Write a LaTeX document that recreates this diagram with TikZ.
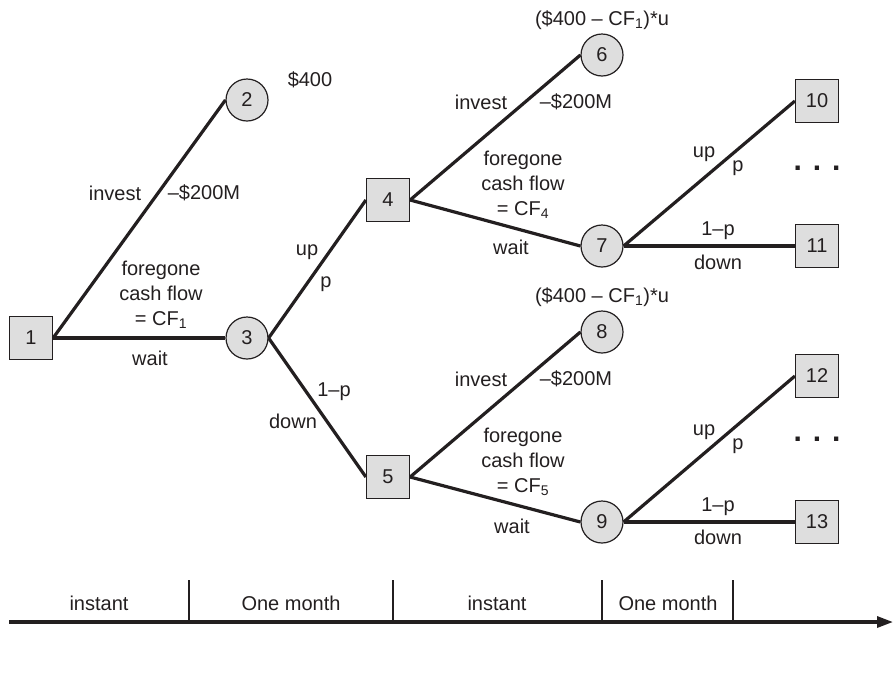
\documentclass[tikz,border=0pt]{standalone}
\usepackage{fontspec}
\setmainfont{Liberation Sans}
\usetikzlibrary{arrows.meta}
\definecolor{nodegray}{RGB}{222,222,222}
\definecolor{inkc}{RGB}{35,31,32}
\begin{document}
\begin{tikzpicture}[x=1pt,y=-1pt,
  every node/.style={font=\fontsize{20}{25}\selectfont, inner sep=0pt, text=inkc},
  sq/.style={draw=inkc, line width=1.2pt, fill=nodegray, rectangle, minimum size=43pt},
  cir/.style={draw=inkc, line width=1.2pt, fill=nodegray, circle, minimum size=42pt},
  edge/.style={draw=inkc, line width=3.2pt},
  lbl/.style={align=center},
  dots/.style={font=\fontsize{30}{30}\selectfont\bfseries},
  tick/.style={draw=inkc, line width=1.2pt}
]
\useasboundingbox (0,0) rectangle (896,673);

% nodes
\node[sq]  (n1)  at (31,338)  {1};
\node[cir] (n2)  at (247,100) {2};
\node[cir] (n3)  at (247,338) {3};
\node[sq]  (n4)  at (388,200) {4};
\node[sq]  (n5)  at (388,477) {5};
\node[cir] (n6)  at (602,55)  {6};
\node[cir] (n7)  at (602,246) {7};
\node[cir] (n8)  at (602,332) {8};
\node[cir] (n9)  at (602,522) {9};
\node[sq]  (n10) at (817,101) {10};
\node[sq]  (n11) at (817,246) {11};
\node[sq]  (n12) at (817,376) {12};
\node[sq]  (n13) at (817,522) {13};

% edges
\draw[edge] (n1.east) -- (n2.west);
\draw[edge] (n1.east) -- (n3.west);
\draw[edge] (n3.east) -- (n4.west);
\draw[edge] (n3.east) -- (n5.west);
\draw[edge] (n4.east) -- (n6.west);
\draw[edge] (n4.east) -- (n7.west);
\draw[edge] (n5.east) -- (n8.west);
\draw[edge] (n5.east) -- (n9.west);
\draw[edge] (n7.east) -- (n10.west);
\draw[edge] (n7.east) -- (n11.west);
\draw[edge] (n9.east) -- (n12.west);
\draw[edge] (n9.east) -- (n13.west);

% labels, first stage
\node (v2)  at (310,80)  {\$400};
\node (i1)  at (115,193) {invest};
\node (c1)  at (204,193) {\textendash\$200M};
\node[lbl] (f1) at (161,295) {foregone\\cash flow\\= CF\textsubscript{1}};
\node (w1)  at (150,358) {wait};
\node (u1)  at (307,252) {up};
\node (p1)  at (326,284) {p};
\node (q1)  at (334,392) {1\textendash p};
\node (d1)  at (293,421) {down};

% labels, upper branch
\node (v6)  at (602,20)  {(\$400 \textendash{} CF\textsubscript{1})*u};
\node (i4)  at (481,102) {invest};
\node (c4)  at (576,102) {\textendash\$200M};
\node[lbl] (f4) at (523,185) {foregone\\cash flow\\= CF\textsubscript{4}};
\node (w4)  at (511,247) {wait};
\node (u7)  at (704,154) {up};
\node (p7)  at (738,168) {p};
\node (q7)  at (718,231) {1\textendash p};
\node (d7)  at (718,262) {down};
\node[dots] (e7)  at (817,168) {.\hspace{11pt}.\hspace{11pt}.};

% labels, lower branch
\node (v8)  at (602,297) {(\$400 \textendash{} CF\textsubscript{1})*u};
\node (i5)  at (481,379) {invest};
\node (c5)  at (576,379) {\textendash\$200M};
\node[lbl] (f5) at (523,462) {foregone\\cash flow\\= CF\textsubscript{5}};
\node (w5)  at (512,526) {wait};
\node (u9)  at (704,432) {up};
\node (p9)  at (738,446) {p};
\node (q9)  at (718,507) {1\textendash p};
\node (d9)  at (718,537) {down};
\node[dots] (e9)  at (817,439) {.\hspace{11pt}.\hspace{11pt}.};

% time line
\coordinate (ta) at (9,622);
\coordinate (tb) at (893,622);
\draw[edge, -{Triangle[length=16pt,width=11pt]}] (ta) -- (tb);
\draw[tick] (189,580) -- (189,622);
\draw[tick] (393,580) -- (393,622);
\draw[tick] (602,580) -- (602,622);
\draw[tick] (733,580) -- (733,622);
\node (s1) at (99,603)  {instant};
\node (s2) at (291,603) {One month};
\node (s3) at (497,603) {instant};
\node (s4) at (668,603) {One month};
\end{tikzpicture}
\end{document}
